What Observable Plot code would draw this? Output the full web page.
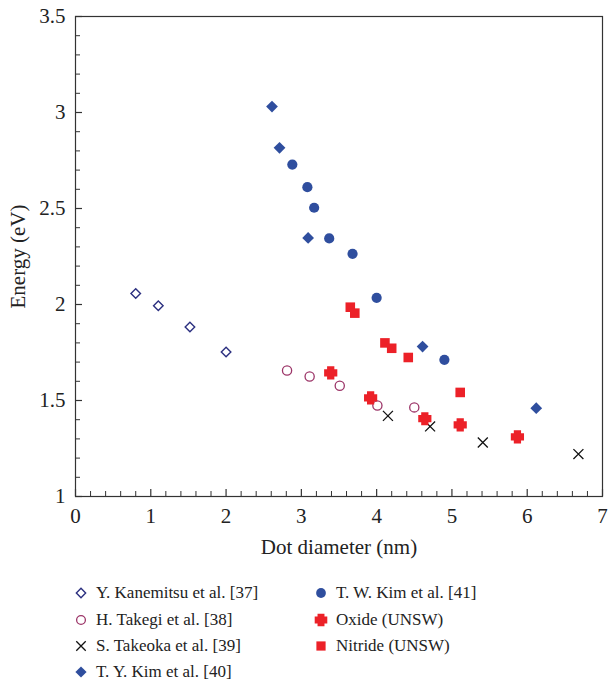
<!DOCTYPE html>
<html>
<head>
<meta charset="utf-8">
<script src="https://cdn.jsdelivr.net/npm/d3@7"></script>
<script src="https://cdn.jsdelivr.net/npm/@observablehq/plot@0.6"></script>
<style>
  html, body { margin: 0; padding: 0; background: #fff; }
  #wrap { position: relative; width: 608px; height: 685px; font-family: "Liberation Serif", "DejaVu Serif", serif; }
  .leg { position: absolute; font-size: 17px; color: #222; white-space: nowrap; display: flex; align-items: center; }
  .leg svg { margin-right: 6px; }
</style>
</head>
<body>
<div id="wrap"><div id="chart"></div><div id="legend"></div></div>
<script>
// ---- data ----
const kanemitsuX = [0.80, 1.10, 1.52, 2.00];
const kanemitsuY = [2.057, 1.993, 1.883, 1.753];

const takegiX = [2.81, 3.11, 3.51, 4.01, 4.50];
const takegiY = [1.656, 1.625, 1.577, 1.474, 1.464];

const takeokaX = [4.15, 4.71, 5.41, 6.68];
const takeokaY = [1.420, 1.365, 1.281, 1.221];

const tyKimX = [2.61, 2.71, 3.09, 4.61, 6.12];
const tyKimY = [3.031, 2.816, 2.347, 1.781, 1.460];

const twKimX = [2.88, 3.08, 3.17, 3.37, 3.68, 4.00, 4.90];
const twKimY = [2.729, 2.611, 2.504, 2.344, 2.264, 2.035, 1.712];

const oxideX = [3.39, 3.92, 4.64, 5.11, 5.87];
const oxideY = [1.644, 1.514, 1.405, 1.373, 1.311];

const nitrideX = [3.65, 3.71, 4.11, 4.20, 4.42, 5.11];
const nitrideY = [1.986, 1.955, 1.800, 1.772, 1.724, 1.542];

const xTicks = [0, 1, 2, 3, 4, 5, 6, 7];
const yTicks = [1, 1.5, 2, 2.5, 3, 3.5];

const legendLabels = [
  "Y. Kanemitsu et al. [37]", "H. Takegi et al. [38]", "S. Takeoka et al. [39]",
  "T. Y. Kim et al. [40]", "T. W. Kim et al. [41]", "Oxide (UNSW)", "Nitride (UNSW)"
];

// ---- build ----
const pts = (xs, ys) => xs.map((x, i) => ({x, y: ys[i]}));

const navy = "#2c3080", maroon = "#9c3568", blue = "#2f4e9e", red = "#ec2128", black = "#111";

// chunky plus symbol for "Oxide"
const fatPlus = {
  draw(context, size) {
    const r = Math.sqrt(size) * 0.6, a = r * 0.55;
    context.moveTo(-a, -r); context.lineTo(a, -r); context.lineTo(a, -a); context.lineTo(r, -a);
    context.lineTo(r, a); context.lineTo(a, a); context.lineTo(a, r); context.lineTo(-a, r);
    context.lineTo(-a, a); context.lineTo(-r, a); context.lineTo(-r, -a); context.lineTo(-a, -a);
    context.closePath();
  }
};

const minorX = d3.range(0, 7.001, 0.2).map(v => +v.toFixed(1)).filter(v => Math.abs(v - Math.round(v)) > 1e-6);
const minorY = d3.range(1, 3.501, 0.1).map(v => +v.toFixed(1)).filter(v => Math.abs(v * 2 - Math.round(v * 2)) > 1e-6);

const axisColor = "#333";
const fmt = d => `${d}`;

const chart = Plot.plot({
  width: 608,
  height: 560,
  marginLeft: 75,
  marginRight: 6,
  marginTop: 16,
  marginBottom: 64,
  style: { fontFamily: "'Liberation Serif', 'DejaVu Serif', serif", fontSize: "20.5px", color: "#222", background: "#fff", overflow: "visible" },
  x: { domain: [0, 7], label: null },
  y: { domain: [1, 3.5], label: null },
  marks: [
    Plot.frame({ stroke: axisColor, strokeWidth: 1.2 }),
    // major ticks (inward)
    Plot.axisX(xTicks, { tickSize: -7, text: null, stroke: axisColor, strokeWidth: 1.2 }),
    Plot.axisX(minorX, { tickSize: -5, text: null, stroke: axisColor, strokeWidth: 1 }),
    Plot.axisY(yTicks, { tickSize: -7, text: null, stroke: axisColor, strokeWidth: 1.2 }),
    Plot.axisY(minorY, { tickSize: -5, text: null, stroke: axisColor, strokeWidth: 1 }),
    // tick labels
    Plot.axisX(xTicks, { tickSize: 0, tickPadding: 12, fontSize: 21, tickFormat: fmt, label: "Dot diameter (nm)", labelAnchor: "center", labelOffset: 57, labelArrow: "none" }),
    Plot.axisY(yTicks, { tickSize: 0, tickPadding: 10, fontSize: 21, tickFormat: fmt, label: "Energy (eV)", labelAnchor: "center", labelOffset: 65, labelArrow: "none" }),
    // data
    Plot.dot(pts(kanemitsuX, kanemitsuY), { x: "x", y: "y", symbol: "diamond2", r: 4.3, stroke: navy, strokeWidth: 1.4, fill: "none" }),
    Plot.dot(pts(takegiX, takegiY), { x: "x", y: "y", symbol: "circle", r: 4.6, stroke: maroon, strokeWidth: 1.3, fill: "none" }),
    Plot.dot(pts(takeokaX, takeokaY), { x: "x", y: "y", symbol: "times", r: 4.6, stroke: black, strokeWidth: 1.3, fill: "none" }),
    Plot.dot(pts(tyKimX, tyKimY), { x: "x", y: "y", symbol: "diamond2", r: 5.3, fill: blue, stroke: "none" }),
    Plot.dot(pts(twKimX, twKimY), { x: "x", y: "y", symbol: "circle", r: 5.1, fill: blue, stroke: "none" }),
    Plot.dot(pts(nitrideX, nitrideY), { x: "x", y: "y", symbol: "square", r: 5.4, fill: red, stroke: "none" }),
    Plot.dot(pts(oxideX, oxideY), { x: "x", y: "y", symbol: fatPlus, r: 6.2, fill: red, stroke: "none" })
  ]
});
document.getElementById("chart").appendChild(chart);

// ---- legend ----
const legendSymbols = [
  { symbol: d3.symbolDiamond2, fill: "none", stroke: navy, size: 55, sw: 1.4 },
  { symbol: d3.symbolCircle, fill: "none", stroke: maroon, size: 60, sw: 1.3 },
  { symbol: d3.symbolTimes, fill: "none", stroke: black, size: 60, sw: 1.3 },
  { symbol: d3.symbolDiamond2, fill: blue, stroke: "none", size: 80, sw: 0 },
  { symbol: d3.symbolCircle, fill: blue, stroke: "none", size: 75, sw: 0 },
  { symbol: fatPlus, fill: red, stroke: "none", size: 110, sw: 0 },
  { symbol: d3.symbolSquare, fill: red, stroke: "none", size: 85, sw: 0 }
];
const legendPos = [
  [72, 593], [72, 620], [72, 646], [72, 672],
  [312, 593], [312, 620], [312, 646]
];
const legend = d3.select("#legend");
legendLabels.forEach((lab, i) => {
  const s = legendSymbols[i];
  const [lx, ly] = legendPos[i];
  const item = legend.append("div").attr("class", "leg")
    .style("left", lx + "px").style("top", (ly - 11) + "px").style("height", "22px");
  const svg = item.append("svg").attr("width", 18).attr("height", 18);
  svg.append("path")
    .attr("transform", "translate(9,9)")
    .attr("d", d3.symbol(s.symbol, s.size)())
    .attr("fill", s.fill).attr("stroke", s.stroke).attr("stroke-width", s.sw);
  item.append("span").text(lab);
});
</script>
</body>
</html>
